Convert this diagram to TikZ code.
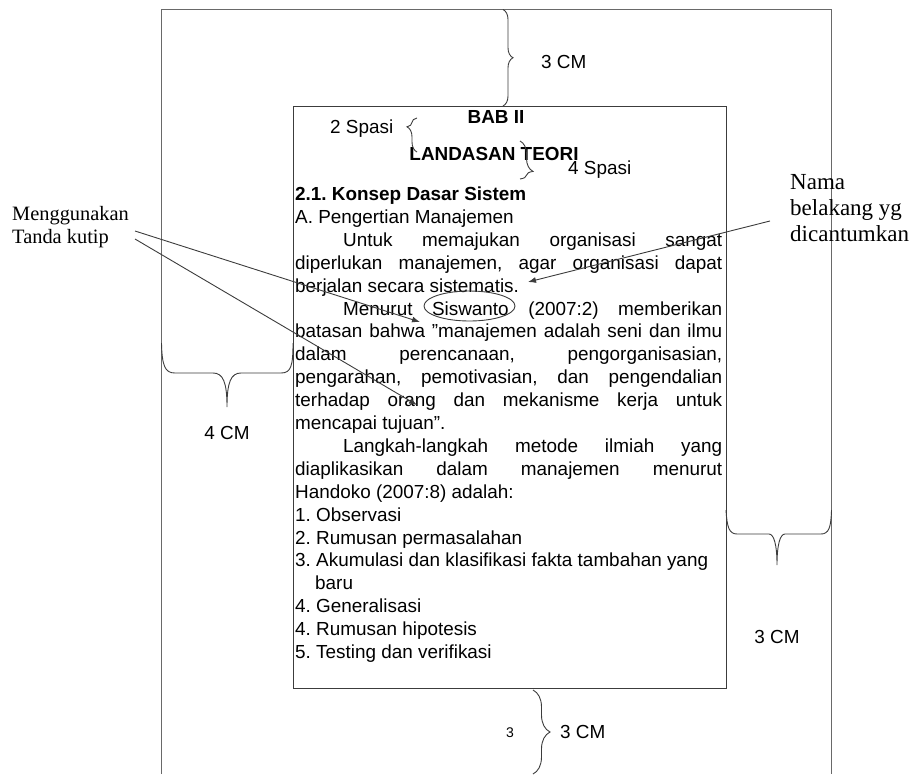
\documentclass[tikz,border=0pt]{standalone}
\usepackage{fontspec}
\setmainfont{Liberation Sans}
\newfontfamily\catfont{Liberation Serif}
\usepackage{xcolor}
\definecolor{garis}{RGB}{60,60,60}
\definecolor{bingkai}{RGB}{105,105,105}
\usepackage{tikz}
\usetikzlibrary{arrows.meta, shapes.geometric, decorations.pathreplacing}
\frenchspacing
\newcommand{\isifont}{\fontsize{18.9}{22.9}\selectfont}
\newcommand{\just}[2]{\makebox[#1][s]{#2}}
\tikzstyle{baris} = [
    anchor=base west,
    inner sep=0pt,
    font=\isifont,
]
\tikzstyle{judul} = [
    baris,
    anchor=base,
    font=\isifont\bfseries,
]
\tikzstyle{catatan} = [
    align=left,
    inner sep=0pt,
    anchor=west,
]
\tikzstyle{tepi} = [
    draw=bingkai,
    line width=1.1pt,
]
\tikzstyle{kurung} = [
    draw=garis,
    line width=0.9pt,
]
\tikzstyle{panah} = [
    draw=garis,
    line width=0.9pt,
    -{Latex[length=8pt,width=6pt]},
]

\begin{document}
\begin{tikzpicture}[x=1pt, y=-1pt]
    \useasboundingbox (0,0) rectangle (915,774);

    % frames
    \draw [tepi] (161.5,774) -- (161.5,9.5) -- (831.5,9.5) -- (831.5,774);
    \node (halaman) at (293,106) [draw=garis, line width=0.9pt, inner sep=0pt,
        minimum width=433pt, minimum height=582pt, anchor=north west] {};

    % headings
    \node (bab) at (496,123) [judul] {BAB II};
    \node (landasan) at (494,160) [judul] {LANDASAN TEORI};

    % text lines
    \node (l0) at (295,200.5) [baris, font=\isifont\bfseries] {2.1. Konsep Dasar Sistem};
    \node (l1) at (295,223.4) [baris] {A. Pengertian Manajemen};
    \node (l2) at (343,246.3) [baris] {\just{379pt}{Untuk memajukan organisasi sangat}};
    \node (l3) at (295,269.2) [baris] {\just{427pt}{diperlukan manajemen, agar organisasi dapat}};
    \node (l4) at (295,292.1) [baris] {berjalan secara sistematis.};
    \node (l5) at (343,315) [baris] {\just{379pt}{Menurut Siswanto (2007:2) memberikan}};
    \node (l6) at (295,337.9) [baris] {\just{427pt}{batasan bahwa ”manajemen adalah seni dan ilmu}};
    \node (l7) at (295,360.8) [baris] {\just{427pt}{dalam perencanaan, pengorganisasian,}};
    \node (l8) at (295,383.7) [baris] {\just{427pt}{pengarahan, pemotivasian, dan pengendalian}};
    \node (l9) at (295,406.6) [baris] {\just{427pt}{terhadap orang dan mekanisme kerja untuk}};
    \node (l10) at (295,429.5) [baris] {mencapai tujuan”.};
    \node (l11) at (343,452.4) [baris] {\just{379pt}{Langkah-langkah metode ilmiah yang}};
    \node (l12) at (295,475.3) [baris] {\just{427pt}{diaplikasikan dalam manajemen menurut}};
    \node (l13) at (295,498.2) [baris] {Handoko (2007:8) adalah:};
    \node (l14) at (295,521.1) [baris] {1. Observasi};
    \node (l15) at (295,544) [baris] {2. Rumusan permasalahan};
    \node (l16) at (295,566.9) [baris] {3. Akumulasi dan klasifikasi fakta tambahan yang};
    \node (l17) at (315,589.8) [baris] {baru};
    \node (l18) at (295,612.7) [baris] {4. Generalisasi};
    \node (l19) at (295,635.6) [baris] {4. Rumusan hipotesis};
    \node (l20) at (295,658.5) [baris] {5. Testing dan verifikasi};

    \node (siswanto) at (469.5,306) [ellipse, draw=garis, line width=0.9pt,
        minimum width=91pt, minimum height=30pt] {};

    % margin labels
    \node (spasi2) at (330,133.5) [baris] {2 Spasi};
    \node (spasi4) at (568,174) [baris] {4 Spasi};
    \node (cmatas) at (541,68.5) [baris] {3 CM};
    \node (cmkiri) at (227,439) [baris, anchor=base] {4 CM};
    \node (cmkanan) at (777,643) [baris, anchor=base] {3 CM};
    \node (tiga) at (510,737) [baris, anchor=base, font=\fontsize{14}{16}\selectfont] {3};
    \node (cmbawah) at (560,738.5) [baris] {3 CM};

    \node (kutip) at (12,227) [catatan, font=\catfont\fontsize{20.4}{22.5}\selectfont]
        {Menggunakan\\Tanda kutip};
    \node (belakang) at (790,208) [catatan, font=\catfont\fontsize{23}{26}\selectfont]
        {Nama\\belakang yg\\dicantumkan};

    % braces
    \draw [kurung, decorate, decoration={brace, amplitude=10pt}] (503,9.5) -- (503,106);
    \draw [kurung, decorate, decoration={brace, amplitude=10pt, aspect=0.74}] (417,152) -- (417,118);
    \draw [kurung, decorate, decoration={brace, amplitude=13pt, aspect=0.8}] (520,141) -- (520,179);
    \draw [kurung, decorate, decoration={brace, amplitude=17pt}] (533,690) -- (533,774);
    \draw [kurung] (161.5,343) .. controls (162,366) and (165,373) .. (175,373) -- (213,373)
        .. controls (223,373) and (227,382) .. (227,407)
        .. controls (227,382) and (231,373) .. (241,373) -- (281,373)
        .. controls (291,373) and (293,366) .. (293,343);
    \draw [kurung] (726,510) .. controls (727,527) and (729,534) .. (737,534) -- (769,534)
        .. controls (774,534) and (777,545) .. (777,565)
        .. controls (777,545) and (780,534) .. (785,534) -- (821,534)
        .. controls (829,534) and (831,527) .. (831.5,510);

    % arrows
    \coordinate (k1) at (135,231);
    \coordinate (k2) at (135,239);
    \coordinate (petik1) at (420,322);
    \coordinate (petik2) at (417,405);
    \coordinate (b1) at (770,221);
    \coordinate (titik) at (528,282);
    \draw [panah] (k1) -- (petik1);
    \draw [panah] (k2) -- (petik2);
    \draw [panah] (b1) -- (titik);

\end{tikzpicture}
\end{document}
